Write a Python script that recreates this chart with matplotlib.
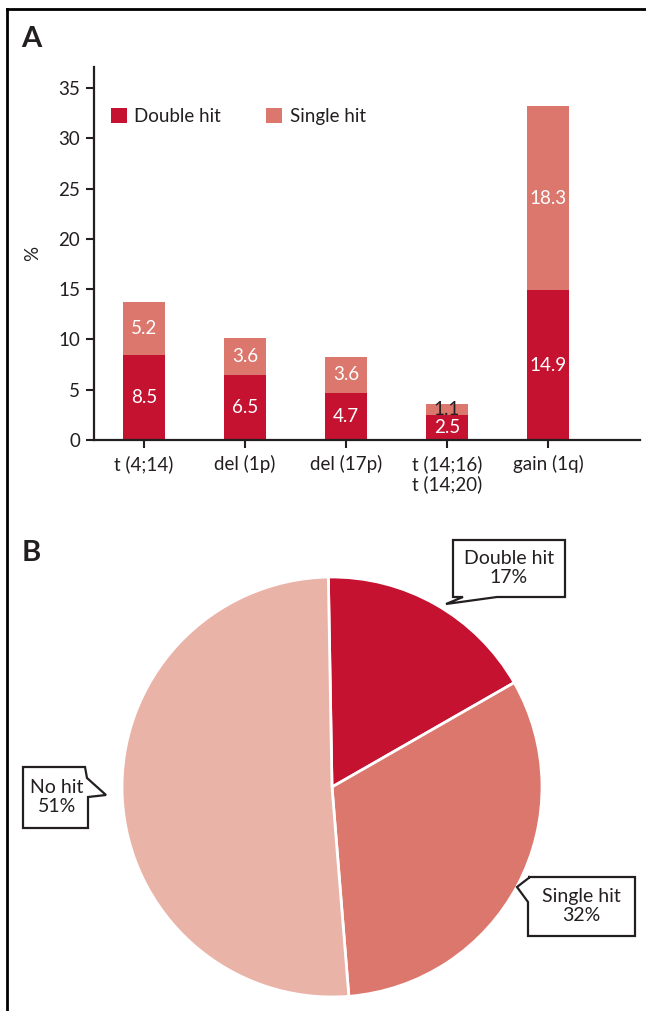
import numpy as np
import matplotlib.pyplot as plt
from matplotlib.patches import Polygon
from matplotlib.lines import Line2D

plt.rcParams['font.family'] = ['Lato', 'DejaVu Sans']

W, H = 646, 1011

# panel A data
categories = ['t (4;14)', 'del (1p)', 'del (17p)', 't (14;16)\nt (14;20)', 'gain (1q)']
double_hit = [8.5, 6.5, 4.7, 2.5, 14.9]
single_hit = [5.2, 3.6, 3.6, 1.1, 18.3]

# panel B data
pie_labels = ['Double hit', 'Single hit', 'No hit']
pie_pct = [17, 32, 51]

c_double = '#c41230'
c_single = '#db776c'
c_none = '#eab3a8'
txt = '#231f20'
fs = 13.5


def px(x, y):
    return (x / W, 1 - y / H)


def bubble(fig, pts, text, center):
    poly = Polygon([px(x, y) for x, y in pts], closed=True, transform=fig.transFigure,
                   facecolor='white', edgecolor=txt, linewidth=1.6, zorder=5)
    fig.add_artist(poly)
    fig.text(*px(*center), text, ha='center', va='center', fontsize=14,
             color=txt, zorder=6, linespacing=1.1)


fig = plt.figure(figsize=(W / 100, H / 100), dpi=100)

# frame lines (cropped figure border)
fig.add_artist(Line2D([px(7, 9)[0], 1], [px(7, 9)[1]] * 2, transform=fig.transFigure, color='k', lw=2))
fig.add_artist(Line2D([px(7, 9)[0]] * 2, [px(7, 9)[1], 0], transform=fig.transFigure, color='k', lw=2))

fig.text(*px(21, 39), 'A', fontsize=21, fontweight='bold', va='center', color=txt)
fig.text(*px(22, 553), 'B', fontsize=21, fontweight='bold', va='center', color=txt)

# ---- panel A
ax = fig.add_axes([94 / W, 1 - 440 / H, (640 - 94) / W, (440 - 67) / H])
x = np.arange(len(categories))
ax.bar(x, double_hit, width=0.41, color=c_double, label='Double hit')
ax.bar(x, single_hit, width=0.41, bottom=double_hit, color=c_single, label='Single hit')

for i in range(len(categories)):
    ax.text(x[i], double_hit[i] / 2, f'{double_hit[i]}', ha='center', va='center',
            color='white', fontsize=fs)
    c = txt if single_hit[i] < 2 else 'white'
    ax.text(x[i], double_hit[i] + single_hit[i] / 2, f'{single_hit[i]}', ha='center', va='center',
            color=c, fontsize=fs)

ax.set_xlim(-0.495, 4.91)
ax.set_ylim(0, 37.1)
ax.set_yticks(np.arange(0, 36, 5))
ax.set_xticks(x)
ax.set_xticklabels(categories, linespacing=1.15)
ax.tick_params(axis='both', labelsize=fs, colors=txt, width=1.5, length=6, direction='out')
ax.tick_params(axis='x', pad=5)
ax.tick_params(axis='y', pad=4)
for s in ['top', 'right']:
    ax.spines[s].set_visible(False)
for s in ['left', 'bottom']:
    ax.spines[s].set_linewidth(1.6)
    ax.spines[s].set_color(txt)
ax.set_ylabel('%', fontsize=fs, color=txt, labelpad=12)
ax.legend(loc='upper left', bbox_to_anchor=(0.0, 0.935), ncol=2, frameon=False, fontsize=fs,
          handlelength=0.85, handleheight=0.85, handletextpad=0.4, columnspacing=2.4,
          labelcolor=txt)

# ---- panel B
ax2 = fig.add_axes([122 / W, 1 - 997 / H, 420 / W, 420 / H])
ax2.pie(pie_pct, colors=[c_double, c_single, c_none], startangle=91, counterclock=False,
        radius=1, wedgeprops=dict(edgecolor='white', linewidth=2))
ax2.set_xlim(-1, 1)
ax2.set_ylim(-1, 1)
ax2.set_aspect('equal')
ax2.axis('off')

bubble(fig, [(453, 540), (565, 540), (565, 597), (497, 597), (446, 604), (463, 597), (453, 597)],
       f'{pie_labels[0]}\n{pie_pct[0]}%', (509, 568))
bubble(fig, [(528, 877), (635, 877), (635, 936), (528, 936), (528, 902), (517, 887), (530, 877)],
       f'{pie_labels[1]}\n{pie_pct[1]}%', (581, 906))
bubble(fig, [(23, 767), (85, 767), (87, 778), (106, 795), (88, 797), (88, 828), (23, 828)],
       f'{pie_labels[2]}\n{pie_pct[2]}%', (57, 797))

fig.savefig('out.png', dpi=100)
